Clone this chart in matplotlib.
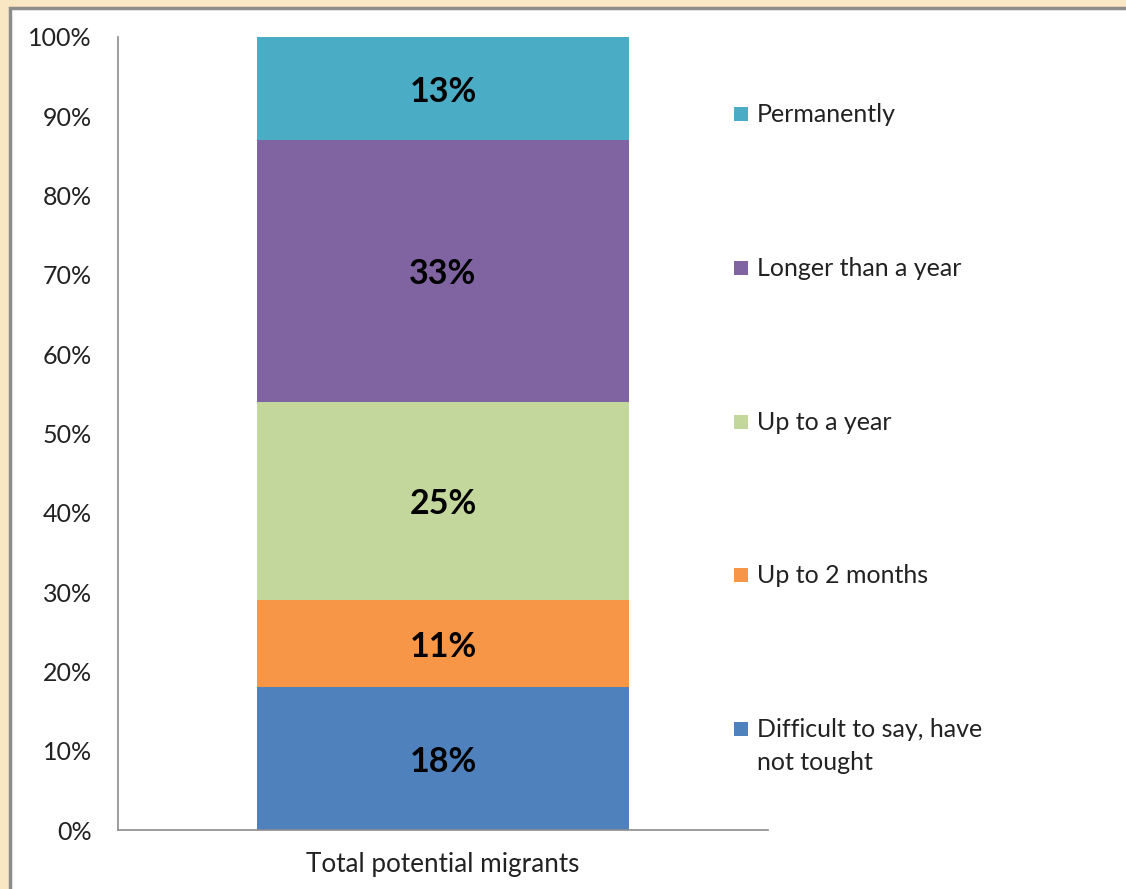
import matplotlib
matplotlib.use("Agg")
import matplotlib.pyplot as plt
import matplotlib.patches as mpatches
from matplotlib.ticker import FuncFormatter

plt.rcParams["font.family"] = ["Lato", "DejaVu Sans"]

# Datos (de abajo hacia arriba)
category = "Total potential migrants"
series = ["Difficult to say, have\nnot tought", "Up to 2 months", "Up to a year",
          "Longer than a year", "Permanently"]
values = [18, 11, 25, 33, 13]
colors = ["#4F81BD", "#F79646", "#C3D69B", "#8064A2", "#4BACC6"]

W, H = 1126, 889
fig = plt.figure(figsize=(W / 100, H / 100), dpi=100)
fig.patch.set_facecolor("#F9E6C3")

# Panel blanco con borde gris
panel = mpatches.Rectangle((10 / W, -0.1), 1.2, 1 - 8 / H + 0.1, transform=fig.transFigure,
                           facecolor="white", edgecolor="#8C8C8C", linewidth=2.5, zorder=-10)
fig.patches.append(panel)

ax = fig.add_axes([118 / W, 1 - 830 / H, (768 - 118) / W, (830 - 37) / H])
ax.set_facecolor("none")

bottom = 0
for val, col in zip(values, colors):
    ax.bar(0, val, width=0.571, bottom=bottom, color=col, linewidth=0)
    ax.text(0, bottom + val / 2, f"{val}%", ha="center", va="center_baseline",
            fontsize=24.5, fontweight="bold", color="black")
    bottom += val

ax.set_xlim(-0.5, 0.5)
ax.set_ylim(0, 100)
ax.set_yticks(range(0, 101, 10))
ax.yaxis.set_major_formatter(FuncFormatter(lambda v, p: f"{int(v)}%"))
ax.set_xticks([0])
ax.set_xticklabels([category])
ax.tick_params(axis="y", length=0, pad=19, labelsize=18, labelcolor="#222222")
ax.tick_params(axis="x", length=0, pad=16, labelsize=18.8, labelcolor="#222222")
for s in ["top", "right"]:
    ax.spines[s].set_visible(False)
for s in ["left", "bottom"]:
    ax.spines[s].set_color("#8C8C8C")
    ax.spines[s].set_linewidth(1.2)

# Leyenda manual (orden de arriba hacia abajo)
y0, step = 113, 153.75
for i, (lab, col) in enumerate(zip(series[::-1], colors[::-1])):
    y = y0 + i * step
    fig.patches.append(mpatches.Rectangle((734 / W, 1 - (y + 8) / H), 14 / W, 14 / H,
                                          transform=fig.transFigure, facecolor=col,
                                          linewidth=0, zorder=3))
    fig.text(757 / W, 1 - (y - 10) / H, lab, ha="left", va="top",
             fontsize=18, color="#222222", linespacing=1.5)

fig.savefig("out.png", dpi=100)
